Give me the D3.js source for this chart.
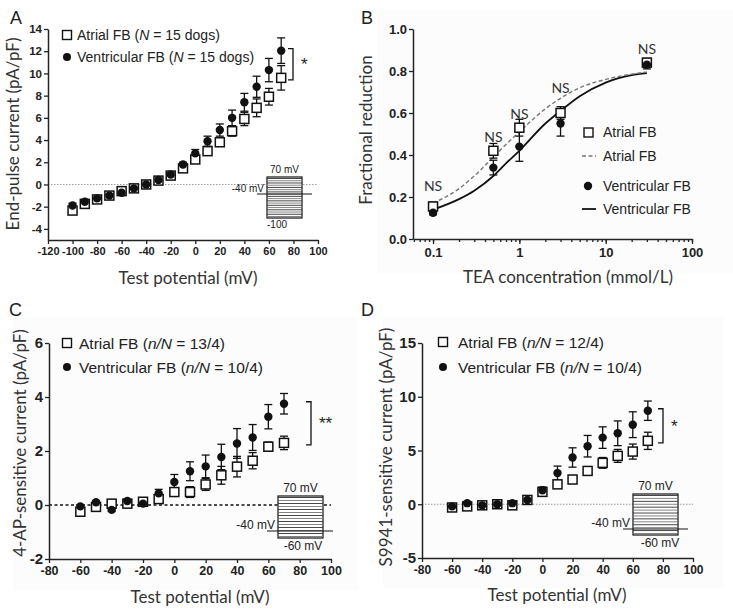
<!DOCTYPE html>
<html>
<head>
<meta charset="utf-8">
<script src="https://cdn.jsdelivr.net/npm/d3@7"></script>
<style>
body { margin: 0; background: #fff; }
svg text { font-family: "Liberation Sans", Arial, sans-serif; fill: #222; }
.tick text { font-weight: bold; }
.title { font-family: Lato, "Open Sans", sans-serif; fill: #333; }
</style>
</head>
<body>
<svg id="fig" width="733" height="609"></svg>
<script>
// ---- panel A : end-pulse current ----
const voltsA = [-100, -90, -80, -70, -60, -50, -40, -30, -20, -10, 0, 10, 20, 30, 40, 50, 60, 70];
const atrialA = [-2.35, -1.75, -1.35, -1.0, -0.6, -0.35, 0.0, 0.35, 0.8, 1.45, 2.25, 3.0, 3.8, 4.8, 5.9, 6.9, 7.9, 9.6];
const atrialAErr = [0.25, 0.2, 0.2, 0.15, 0.15, 0.1, 0.1, 0.1, 0.15, 0.2, 0.25, 0.3, 0.35, 0.45, 0.6, 0.8, 0.75, 1.1];
const ventA = [-1.9, -1.55, -1.25, -1.0, -0.75, -0.35, 0.0, 0.4, 0.9, 1.8, 2.8, 3.9, 4.9, 6.0, 7.4, 8.8, 10.3, 12.05];
const ventAErr = [0.2, 0.2, 0.15, 0.15, 0.15, 0.1, 0.1, 0.1, 0.15, 0.2, 0.35, 0.45, 0.55, 0.7, 0.8, 0.95, 1.05, 1.15];

// ---- panel B : TEA block ----
const teaConc = [0.1, 0.5, 1, 3, 30];
const atrialB = [0.155, 0.42, 0.53, 0.60, 0.84];
const atrialBErr = [0.02, 0.035, 0.04, 0.03, 0.02];
const ventB = [0.125, 0.34, 0.44, 0.55, 0.83];
const ventBErr = [0.01, 0.035, 0.07, 0.06, 0.02];
const nsLevel = [0.255, 0.49, 0.60, 0.72, 0.905];
const fitConc = [0.1, 0.2, 0.3, 0.5, 0.7, 1, 2, 3, 5, 10, 20, 30];
const atrialFit = [0.17, 0.24, 0.30, 0.39, 0.45, 0.51, 0.62, 0.67, 0.72, 0.76, 0.785, 0.795];
const ventFit = [0.14, 0.19, 0.23, 0.30, 0.36, 0.42, 0.55, 0.61, 0.68, 0.745, 0.78, 0.79];

// ---- panels C, D : 4-AP and S9941 sensitive currents ----
const voltsCD = [-60, -50, -40, -30, -20, -10, 0, 10, 20, 30, 40, 50, 60, 70];
const atrialC = [-0.25, -0.07, 0.05, 0.05, 0.12, 0.22, 0.48, 0.48, 0.76, 1.1, 1.42, 1.64, 2.16, 2.3];
const atrialCErr = [0.1, 0.08, 0.06, 0.06, 0.06, 0.1, 0.1, 0.2, 0.22, 0.33, 0.38, 0.3, 0.17, 0.25];
const ventC = [-0.05, 0.1, -0.18, 0.15, 0.05, 0.43, 0.85, 1.25, 1.43, 1.78, 2.28, 2.5, 3.27, 3.75];
const ventCErr = [0.06, 0.06, 0.06, 0.06, 0.06, 0.15, 0.28, 0.35, 0.42, 0.47, 0.55, 0.48, 0.45, 0.38];

const atrialD = [-0.3, -0.2, -0.1, 0.0, -0.1, 0.4, 1.15, 1.85, 2.3, 3.1, 3.85, 4.5, 4.9, 5.9];
const atrialDErr = [0.2, 0.15, 0.1, 0.1, 0.15, 0.2, 0.3, 0.2, 0.2, 0.25, 0.5, 0.6, 0.7, 0.8];
const ventD = [-0.2, 0.1, -0.1, 0.0, 0.1, 0.4, 1.3, 2.9, 4.35, 5.4, 6.2, 6.6, 7.4, 8.7];
const ventDErr = [0.1, 0.1, 0.1, 0.1, 0.1, 0.15, 0.3, 0.65, 0.9, 1.0, 1.0, 1.15, 1.2, 0.9];

const svg = d3.select("#fig");
const ink = "#222";
const hyphen = d => String(d);

function styleAxis(sel, fontSize) {
  sel.select(".domain").attr("stroke", ink).attr("stroke-width", 1.5);
  sel.selectAll(".tick line").attr("stroke", ink).attr("stroke-width", 1.3);
  sel.selectAll(".tick text").attr("font-size", fontSize).attr("fill", ink);
}

function errorBars(g, xs, ys, es, x, y, cap) {
  const eb = g.append("g");
  xs.forEach((v, i) => {
    const cx = x(v), y1 = y(ys[i] + es[i]), y2 = y(ys[i] - es[i]);
    eb.append("line").attr("x1", cx).attr("x2", cx).attr("y1", y1).attr("y2", y2);
    eb.append("line").attr("x1", cx - cap).attr("x2", cx + cap).attr("y1", y1).attr("y2", y1);
    eb.append("line").attr("x1", cx - cap).attr("x2", cx + cap).attr("y1", y2).attr("y2", y2);
  });
  eb.attr("stroke", "#111").attr("stroke-width", 1.3);
}

function squares(g, xs, ys, x, y, s) {
  g.append("g").selectAll("rect").data(xs).join("rect")
    .attr("x", (d) => x(d) - s / 2)
    .attr("y", (d, i) => y(ys[i]) - s / 2)
    .attr("width", s).attr("height", s)
    .attr("fill", "#fff").attr("stroke", "#111").attr("stroke-width", 1.5);
}

function dots(g, xs, ys, x, y, r) {
  g.append("g").selectAll("circle").data(xs).join("circle")
    .attr("cx", (d) => x(d))
    .attr("cy", (d, i) => y(ys[i]))
    .attr("r", r).attr("fill", "#111");
}

function yTitle(text, cx, cy, size) {
  svg.append("text").attr("class", "title")
    .attr("transform", `translate(${cx},${cy}) rotate(-90)`)
    .attr("text-anchor", "middle").attr("dominant-baseline", "central")
    .attr("font-size", size).text(text);
}

function xTitle(text, cx, cy, size) {
  svg.append("text").attr("class", "title")
    .attr("x", cx).attr("y", cy)
    .attr("text-anchor", "middle").attr("dominant-baseline", "central")
    .attr("font-size", size).text(text);
}

function legendLine(g, px, py, size, parts, marker) {
  if (marker === "square") {
    g.append("rect").attr("x", px - 4.5).attr("y", py - 4.5).attr("width", 9).attr("height", 9)
      .attr("fill", "#fff").attr("stroke", "#111").attr("stroke-width", 1.4);
  } else {
    g.append("circle").attr("cx", px).attr("cy", py).attr("r", 4).attr("fill", "#111");
  }
  const t = g.append("text").attr("x", parts.x).attr("y", py)
    .attr("dominant-baseline", "central").attr("font-size", size);
  parts.text.forEach(p => {
    t.append("tspan").attr("font-style", p.i ? "italic" : null).text(p.s);
  });
}

// voltage protocol sketch in the lower right corner
function protocol(g, p) {
  const ins = g.append("g");
  const steps = d3.range(p.n);
  const ly = d3.scaleLinear().domain([0, p.n - 1]).range([p.top + 1.5, p.bottom - 1.5]);
  ins.append("rect").attr("x", p.left).attr("y", p.top)
    .attr("width", p.right - p.left).attr("height", p.bottom - p.top)
    .attr("fill", "#fff").attr("stroke", "#111").attr("stroke-width", 1.2);
  ins.selectAll("line.step").data(steps).join("line").attr("class", "step")
    .attr("x1", p.left).attr("x2", p.right)
    .attr("y1", d => ly(d)).attr("y2", d => ly(d))
    .attr("stroke", d => d % 2 ? "#777" : "#333").attr("stroke-width", 0.9);
  ins.append("line").attr("x1", p.hx0).attr("x2", p.hx1).attr("y1", p.hold).attr("y2", p.hold)
    .attr("stroke", "#111").attr("stroke-width", 1.2);
  ins.append("text").attr("x", (p.left + p.right) / 2).attr("y", p.top - 4)
    .attr("text-anchor", "middle").attr("font-size", p.fs).text(p.topLabel);
  ins.append("text").attr("x", p.left - 3).attr("y", p.hold - 2)
    .attr("text-anchor", "end").attr("font-size", p.fs).text("-40 mV");
  ins.append("text").attr("x", p.bottomX).attr("y", p.bottom + p.fs)
    .attr("text-anchor", p.bottomAnchor).attr("font-size", p.fs).text(p.bottomLabel);
}

function ivPanel(p) {
  const x = d3.scaleLinear().domain(p.xDomain).range(p.xRange);
  const y = d3.scaleLinear().domain(p.yDomain).range(p.yRange);
  const g = svg.append("g");

  g.append("line").attr("x1", p.xRange[0]).attr("x2", p.xRange[1])
    .attr("y1", y(0)).attr("y2", y(0))
    .attr("stroke", p.zero.color).attr("stroke-width", p.zero.width)
    .attr("stroke-dasharray", p.zero.dash);

  const ya = g.append("g").attr("transform", `translate(${p.xRange[0]},0)`)
    .call(d3.axisLeft(y).tickValues(p.yTicks).tickFormat(hyphen).tickSize(4).tickSizeOuter(0).tickPadding(2));
  styleAxis(ya, p.yFont);
  const xa = g.append("g").attr("transform", `translate(0,${p.yRange[0]})`)
    .call(d3.axisBottom(x).tickValues(p.xTicks).tickFormat(hyphen).tickSize(4).tickSizeOuter(0).tickPadding(3));
  styleAxis(xa, p.xFont);

  protocol(g, p.inset);

  errorBars(g, p.volts, p.atrial, p.atrialErr, x, y, 4);
  errorBars(g, p.volts, p.vent, p.ventErr, x, y, 4);
  squares(g, p.volts, p.atrial, x, y, 9);
  dots(g, p.volts, p.vent, x, y, 4.2);

  // significance bracket between the last pair of points
  const last = p.volts.length - 1;
  const bx = p.bracketX;
  const b1 = y(p.vent[last]) - 2, b2 = y(p.atrial[last]) + 2;
  g.append("path")
    .attr("d", `M${bx - 5},${b1}H${bx}V${b2}H${bx - 5}`)
    .attr("fill", "none").attr("stroke", "#111").attr("stroke-width", 1.3);
  g.append("text").attr("x", bx + 8).attr("y", (b1 + b2) / 2 + 6)
    .attr("font-size", 17).text(p.star);

  legendLine(g, p.leg.x, p.leg.y1, p.leg.fs, { x: p.leg.tx, text: p.leg.a }, "square");
  legendLine(g, p.leg.x, p.leg.y2, p.leg.fs, { x: p.leg.tx, text: p.leg.v }, "circle");

  xTitle("Test potential (mV)", p.xTitle[0], p.xTitle[1], 17);
  yTitle(p.yLabel, p.yTitle[0], p.yTitle[1], 17);
}

// faint backgrounds of the pasted sub-figures
svg.append("rect").attr("x", 377).attr("y", 10).attr("width", 356).attr("height", 263).attr("fill", "#fcfcfc");
svg.append("rect").attr("x", 13).attr("y", 317).attr("width", 345).attr("height", 273).attr("fill", "#fcfcfc");
svg.append("rect").attr("x", 383).attr("y", 317).attr("width", 340).attr("height", 271).attr("fill", "#fcfcfc");

// panel letters
[["A", 10, 24], ["B", 361, 24], ["C", 9, 316], ["D", 361, 316]].forEach(([s, lx, ly]) => {
  svg.append("text").attr("x", lx).attr("y", ly).attr("font-size", 18).text(s);
});

ivPanel({
  xDomain: [-120, 100], xRange: [48, 318],
  yDomain: [-5, 14], yRange: [240, 29],
  xTicks: d3.range(-120, 101, 20), yTicks: d3.range(-4, 15, 2),
  xFont: 11, yFont: 11.5,
  volts: voltsA, atrial: atrialA, atrialErr: atrialAErr, vent: ventA, ventErr: ventAErr,
  zero: { color: "#999", width: 1, dash: "1.5,1.5" },
  bracketX: 293, star: "*",
  leg: { x: 67, tx: 77, y1: 35, y2: 57, fs: 14,
    a: [{ s: "Atrial FB (" }, { s: "N", i: true }, { s: " = 15 dogs)" }],
    v: [{ s: "Ventricular FB (" }, { s: "N", i: true }, { s: " = 15 dogs)" }] },
  inset: { left: 267, right: 302, top: 177, bottom: 218, n: 18, hold: 194, hx0: 257, hx1: 312,
    fs: 10, topLabel: "70 mV", bottomLabel: "-100", bottomX: 267, bottomAnchor: "start" },
  xTitle: [188, 277], yTitle: [12, 134], yLabel: "End-pulse current (pA/pF)"
});

ivPanel({
  xDomain: [-80, 100], xRange: [49, 331],
  yDomain: [-2, 6], yRange: [559, 343],
  xTicks: d3.range(-80, 101, 20), yTicks: d3.range(-2, 7, 2),
  xFont: 12.5, yFont: 15,
  volts: voltsCD, atrial: atrialC, atrialErr: atrialCErr, vent: ventC, ventErr: ventCErr,
  zero: { color: "#111", width: 1.6, dash: "3,2.5" },
  bracketX: 311, star: "**",
  leg: { x: 67, tx: 79, y1: 343, y2: 367, fs: 15.5,
    a: [{ s: "Atrial FB (" }, { s: "n/N", i: true }, { s: " = 13/4)" }],
    v: [{ s: "Ventricular FB (" }, { s: "n/N", i: true }, { s: " = 10/4)" }] },
  inset: { left: 278, right: 323, top: 496, bottom: 538, n: 14, hold: 531, hx0: 267, hx1: 333,
    fs: 12, topLabel: "70 mV", bottomLabel: "-60 mV", bottomX: 303, bottomAnchor: "middle" },
  xTitle: [200, 596], yTitle: [19, 443], yLabel: "4-AP-sensitive current (pA/pF)"
});

ivPanel({
  xDomain: [-80, 100], xRange: [422, 693],
  yDomain: [-5, 15], yRange: [558, 343],
  xTicks: d3.range(-80, 101, 20), yTicks: d3.range(-5, 16, 5),
  xFont: 12, yFont: 15,
  volts: voltsCD, atrial: atrialD, atrialErr: atrialDErr, vent: ventD, ventErr: ventDErr,
  zero: { color: "#999", width: 1, dash: "1.5,1.5" },
  bracketX: 663, star: "*",
  leg: { x: 443, tx: 458, y1: 342, y2: 367, fs: 15.5,
    a: [{ s: "Atrial FB (" }, { s: "n/N", i: true }, { s: " = 12/4)" }],
    v: [{ s: "Ventricular FB (" }, { s: "n/N", i: true }, { s: " = 10/4)" }] },
  inset: { left: 633, right: 678, top: 494, bottom: 535, n: 14, hold: 529, hx0: 623, hx1: 688,
    fs: 12, topLabel: "70 mV", bottomLabel: "-60 mV", bottomX: 660, bottomAnchor: "middle" },
  xTitle: [557, 594], yTitle: [385, 447], yLabel: "S9941-sensitive current (pA/pF)"
});

// ---- panel B ----
(function () {
  const x = d3.scaleLog().domain([0.0586, 100]).range([413, 692]);
  const y = d3.scaleLinear().domain([0, 1]).range([239, 29]);
  const g = svg.append("g");

  const ya = g.append("g").attr("transform", "translate(413,0)")
    .call(d3.axisLeft(y).tickValues(d3.range(0, 1.01, 0.2)).tickFormat(d => d.toFixed(1))
      .tickSize(4).tickSizeOuter(0).tickPadding(2));
  styleAxis(ya, 13);
  ya.selectAll(".tick text").attr("font-family", "'Liberation Sans Narrow', 'Liberation Sans', sans-serif");

  const minor = x.ticks().filter(d => d >= 0.06);
  const major = [0.1, 1, 10, 100];
  const xm = g.append("g").attr("transform", "translate(0,239)")
    .call(d3.axisBottom(x).tickValues(minor).tickFormat("").tickSize(3).tickSizeOuter(0));
  styleAxis(xm, 12);
  const xa = g.append("g").attr("transform", "translate(0,239)")
    .call(d3.axisBottom(x).tickValues(major).tickFormat(d => String(d)).tickSize(5).tickSizeOuter(0).tickPadding(4));
  styleAxis(xa, 13);
  xa.select(".domain").remove();
  xa.selectAll(".tick text").attr("font-family", "'Liberation Sans Narrow', 'Liberation Sans', sans-serif");

  const line = d3.line().x((d) => x(d[0])).y((d) => y(d[1])).curve(d3.curveMonotoneX);
  g.append("path").datum(fitConc.map((c, i) => [c, ventFit[i]]))
    .attr("d", line).attr("fill", "none").attr("stroke", "#111").attr("stroke-width", 1.8);
  g.append("path").datum(fitConc.map((c, i) => [c, atrialFit[i]]))
    .attr("d", line).attr("fill", "none").attr("stroke", "#777").attr("stroke-width", 1.4)
    .attr("stroke-dasharray", "4,2.5");

  errorBars(g, teaConc, atrialB, atrialBErr, x, y, 4);
  errorBars(g, teaConc, ventB, ventBErr, x, y, 4);
  squares(g, teaConc, atrialB, x, y, 9);
  dots(g, teaConc, ventB, x, y, 4.2);

  g.append("g").selectAll("text").data(teaConc).join("text")
    .attr("class", "title")
    .attr("x", (d) => x(d)).attr("y", (d, i) => y(nsLevel[i]))
    .attr("text-anchor", "middle").attr("dominant-baseline", "central")
    .attr("font-size", 14).text("NS");

  const lg = g.append("g");
  lg.append("rect").attr("x", 584).attr("y", 128).attr("width", 9).attr("height", 9)
    .attr("fill", "#fff").attr("stroke", "#111").attr("stroke-width", 1.4);
  lg.append("line").attr("x1", 582).attr("x2", 596).attr("y1", 156).attr("y2", 156)
    .attr("stroke", "#777").attr("stroke-width", 1.4).attr("stroke-dasharray", "4,2.5");
  lg.append("circle").attr("cx", 588).attr("cy", 186).attr("r", 4.2).attr("fill", "#111");
  lg.append("line").attr("x1", 582).attr("x2", 596).attr("y1", 209).attr("y2", 209)
    .attr("stroke", "#111").attr("stroke-width", 1.8);
  [["Atrial FB", 132], ["Atrial FB", 156], ["Ventricular FB", 186], ["Ventricular FB", 209]].forEach(([s, ty]) => {
    lg.append("text").attr("x", 603).attr("y", ty).attr("dominant-baseline", "central")
      .attr("font-size", 14).attr("font-family", "'Liberation Sans Narrow', 'Liberation Sans', sans-serif").text(s);
  });

  xTitle("TEA concentration (mmol/L)", 568, 276, 17);
  yTitle("Fractional reduction", 365, 130, 17);
})();
</script>
</body>
</html>
